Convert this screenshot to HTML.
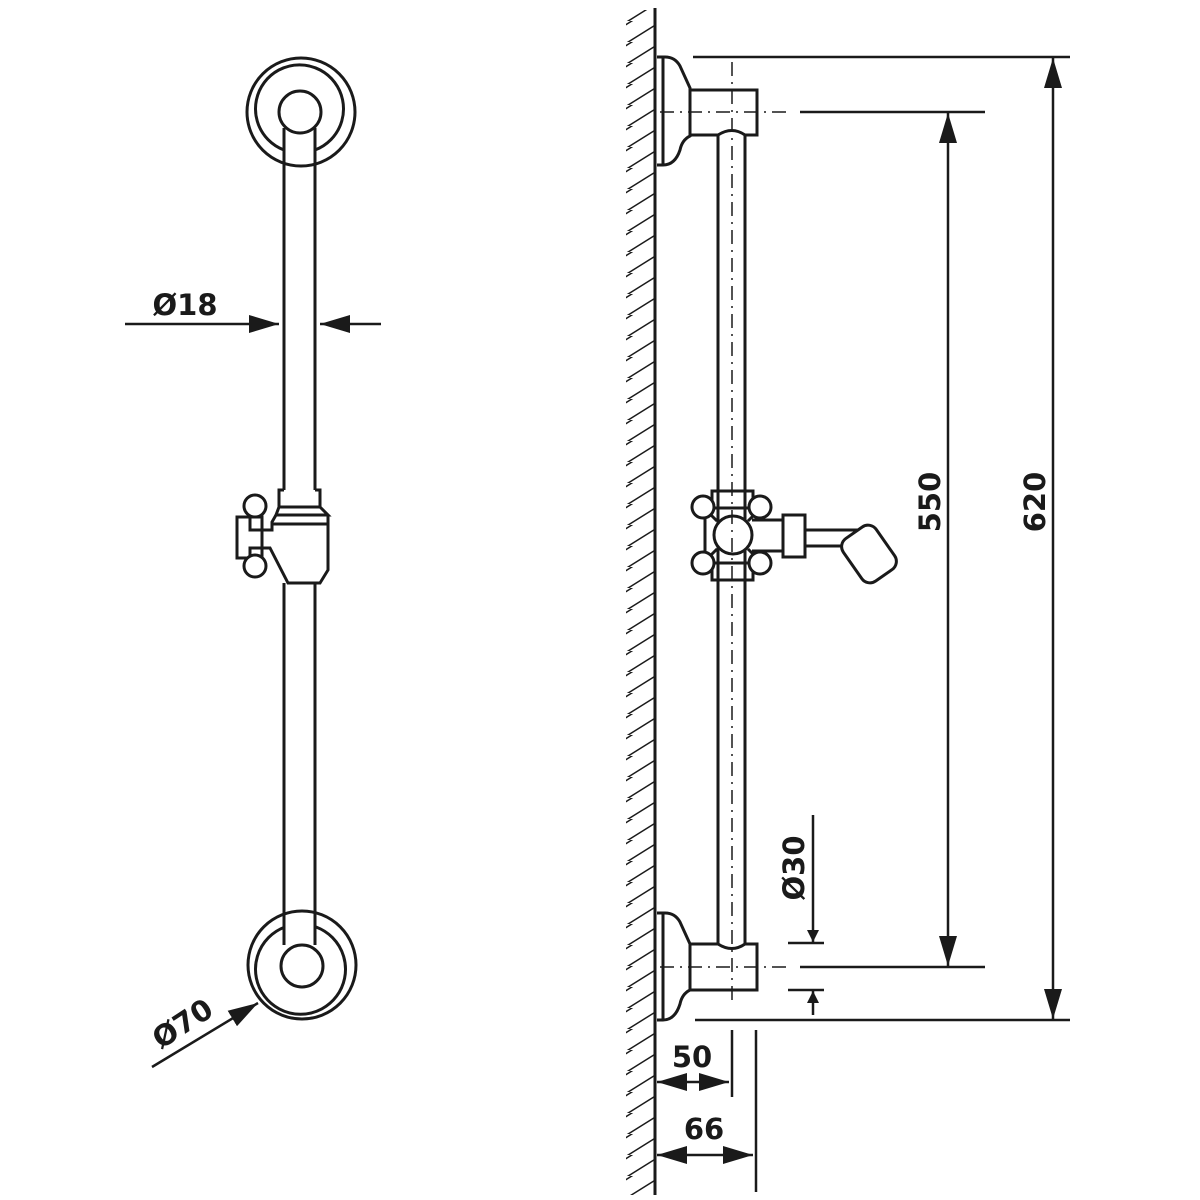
<!DOCTYPE html>
<html><head><meta charset="utf-8"><style>html,body{margin:0;padding:0;background:#fff}svg{display:block}</style></head>
<body>
<svg width="1200" height="1200" viewBox="0 0 1200 1200" xmlns="http://www.w3.org/2000/svg">
<defs>
<marker id="ar" viewBox="0 0 10 10" refX="10" refY="5" markerWidth="12" markerHeight="12" markerUnits="userSpaceOnUse" orient="auto"><path d="M0,0 L10,5 L0,10 z" fill="#1a1a1a"/></marker>
<marker id="ab" viewBox="0 0 20 12" refX="20" refY="6" markerWidth="30" markerHeight="18" markerUnits="userSpaceOnUse" orient="auto"><path d="M0,0 L20,6 L0,12 z" fill="#1a1a1a"/></marker>
<pattern id="hatch" width="30" height="21" patternUnits="userSpaceOnUse"><path d="M-5,23 L35,-2 M-35,23 L5,-2 M25,23 L65,-2" stroke="#1a1a1a" stroke-width="1.5"/></pattern>
</defs>
<g fill="none" stroke="#1a1a1a" stroke-width="3">
<circle cx="301" cy="112" r="54"/>
<path d="M284,150 A44,44 0 1 1 315,150"/>
<circle cx="300" cy="112" r="21" fill="#fff"/>
<path d="M284,128 L284,490 M315,128 L315,490"/>
<path d="M284,490 L279,490 L279,507 L320,507 L320,490 L315,490"/>
<path d="M279,507 L276,515 L328,515 L320,507"/>
<path d="M276,515 L272,522 L272,524 L328,524 L328,515"/>
<path d="M272,522 L272,530 L262,530 L262,548 L270,548 L288,583 L320,583 L328,570 L328,524"/>
<path d="M237,517 L262,517 L262,558 L237,558 Z"/>
<path d="M250,517 L250,530 L262,530 M250,558 L250,548 L262,548"/>
<circle cx="255" cy="506" r="11" fill="#fff"/>
<circle cx="255" cy="566" r="11" fill="#fff"/>
<path d="M284,583 L284,945 M315,583 L315,945"/>
<circle cx="302" cy="965" r="54"/>
<path d="M285,927 A45,45 0 1 0 316,927"/>
<circle cx="302" cy="966" r="21" fill="#fff"/>
</g>
<g stroke="#1a1a1a" stroke-width="2.5" fill="none">
<line x1="125" y1="324" x2="279" y2="324" marker-end="url(#ab)"/>
<line x1="381" y1="324" x2="320" y2="324" marker-end="url(#ab)"/>
<line x1="152" y1="1067" x2="258" y2="1003" marker-end="url(#ab)"/>
</g>
<g font-family="'DejaVu Sans','Liberation Sans',sans-serif" font-weight="bold" font-size="29" fill="#1a1a1a">
<text x="185" y="315" text-anchor="middle">Ø18</text>
<text transform="translate(188,1032) rotate(-33)" text-anchor="middle">Ø70</text>
<text transform="translate(940,502) rotate(-90)" text-anchor="middle">550</text>
<text transform="translate(1045,502) rotate(-90)" text-anchor="middle">620</text>
<text transform="translate(804,868) rotate(-90)" text-anchor="middle">Ø30</text>
<text x="692" y="1067" text-anchor="middle">50</text>
<text x="704" y="1139" text-anchor="middle">66</text>
</g>
<rect x="625" y="10" width="30" height="1185" fill="url(#hatch)"/>
<rect x="620" y="0" width="6" height="1200" fill="#fff"/>
<line x1="655" y1="8" x2="655" y2="1195" stroke="#1a1a1a" stroke-width="3"/>
<g fill="none" stroke="#1a1a1a" stroke-width="3">
<path d="M657,57 L665,57 Q675,57 680,66 L690,88 L690,136 Q682,140 680,150 Q675,165 663,165 L657,165"/>
<path d="M663,57 L663,165"/>
<path d="M690,90 L757,90 L757,135 L745,135 Q732,126 718,135 L690,135"/>
<path d="M718,135 L718,945 M745,135 L745,945"/>
<path d="M657,913 L665,913 Q675,913 680,922 L690,944 L690,990 Q682,994 680,1004 Q675,1020 663,1020 L657,1020"/>
<path d="M663,913 L663,1020"/>
<path d="M690,944 L718,944 Q732,953 745,944 L757,944 L757,990 L690,990 Z"/>
<path d="M712,491 L753,491 L753,508 L712,508 Z"/>
<path d="M712,563 L753,563 L753,580 L712,580 Z"/>
<path d="M705,515 L705,555 M712,508 L753,508"/>
<path d="M709,513 L717,521 M756,513 L748,521 M709,557 L717,549 M756,557 L748,549"/>
<path d="M752,520 L783,520 L783,551 L752,551"/>
<path d="M783,515 L805,515 L805,557 L783,557 Z"/>
<path d="M805,530 L862,530 M805,546 L848,546"/>
<rect x="849" y="528" width="40" height="52" rx="10" transform="rotate(-35 869 554)" fill="#fff"/>
<circle cx="733" cy="535" r="19" fill="#fff"/>
<circle cx="703" cy="507" r="11" fill="#fff"/>
<circle cx="760" cy="507" r="11" fill="#fff"/>
<circle cx="703" cy="563" r="11" fill="#fff"/>
<circle cx="760" cy="563" r="11" fill="#fff"/>
</g>
<g stroke="#1a1a1a" stroke-width="1.5" stroke-dasharray="14,6,2,6" fill="none">
<line x1="732" y1="62" x2="732" y2="1005"/>
<line x1="660" y1="112" x2="790" y2="112"/>
<line x1="660" y1="967" x2="790" y2="967"/>
</g>
<g stroke="#1a1a1a" stroke-width="2.5" fill="none">
<line x1="693" y1="57" x2="1070" y2="57"/>
<line x1="800" y1="112" x2="985" y2="112"/>
<line x1="800" y1="967" x2="985" y2="967"/>
<line x1="695" y1="1020" x2="1070" y2="1020"/>
<line x1="948" y1="540" x2="948" y2="113" marker-end="url(#ab)"/>
<line x1="948" y1="540" x2="948" y2="966" marker-end="url(#ab)"/>
<line x1="1053" y1="540" x2="1053" y2="58" marker-end="url(#ab)"/>
<line x1="1053" y1="540" x2="1053" y2="1019" marker-end="url(#ab)"/>
<line x1="788" y1="943" x2="824" y2="943"/>
<line x1="788" y1="990" x2="824" y2="990"/>
<line x1="813" y1="815" x2="813" y2="942" marker-end="url(#ar)"/>
<line x1="813" y1="1015" x2="813" y2="991" marker-end="url(#ar)"/>
<line x1="732" y1="1030" x2="732" y2="1097"/>
<line x1="756" y1="1030" x2="756" y2="1192"/>
<line x1="693" y1="1082" x2="657" y2="1082" marker-end="url(#ab)"/>
<line x1="693" y1="1082" x2="729" y2="1082" marker-end="url(#ab)"/>
<line x1="705" y1="1155" x2="657" y2="1155" marker-end="url(#ab)"/>
<line x1="705" y1="1155" x2="753" y2="1155" marker-end="url(#ab)"/>
</g>
</svg>
</body></html>
